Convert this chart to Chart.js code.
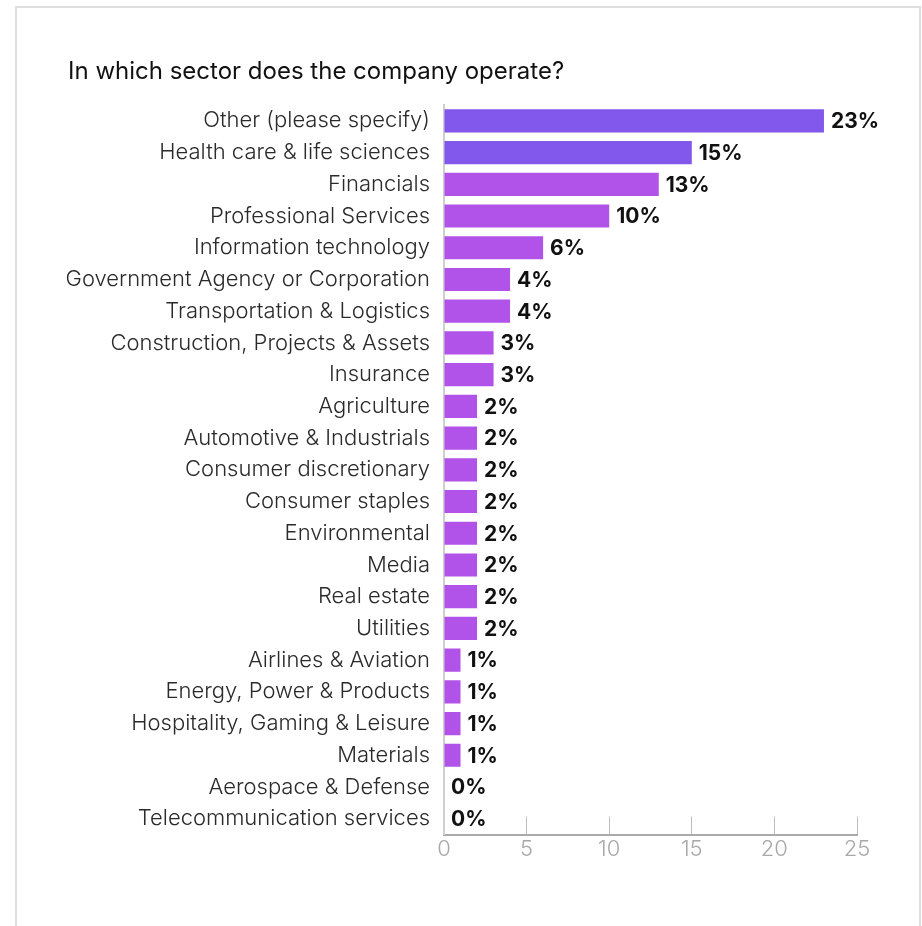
<!DOCTYPE html>
<html>
<head>
<meta charset="utf-8">
<script src="https://cdn.jsdelivr.net/npm/chart.js@4.4.0/dist/chart.umd.min.js"></script>
<style>
  html, body { margin: 0; padding: 0; background: #fff; }
  #wrap { position: relative; width: 922px; height: 926px; overflow: hidden; }
  .card { position: absolute; left: 15px; top: 6px; width: 906px; height: 960px; border: 2px solid #dedede; box-sizing: border-box; }
  #sectorChart { position: absolute; left: 0; top: 0; }
</style>
</head>
<body>
<div id="wrap">
  <div class="card"></div>
  <canvas id="sectorChart" width="922" height="926"></canvas>
</div>
<script>
// Survey: sector of the responding company (share of respondents, %)
const chartTitle = "In which sector does the company operate?";
const sectors = [
  "Other (please specify)",
  "Health care & life sciences",
  "Financials",
  "Professional Services",
  "Information technology",
  "Government Agency or Corporation",
  "Transportation & Logistics",
  "Construction, Projects & Assets",
  "Insurance",
  "Agriculture",
  "Automotive & Industrials",
  "Consumer discretionary",
  "Consumer staples",
  "Environmental",
  "Media",
  "Real estate",
  "Utilities",
  "Airlines & Aviation",
  "Energy, Power & Products",
  "Hospitality, Gaming & Leisure",
  "Materials",
  "Aerospace & Defense",
  "Telecommunication services"
];
const shares = [23, 15, 13, 10, 6, 4, 4, 3, 3, 2, 2, 2, 2, 2, 2, 2, 2, 1, 1, 1, 1, 0, 0];
const xTicks = [0, 5, 10, 15, 20, 25];

const FONT = "Inter, 'Noto Sans', sans-serif";
const topColor = "#8157ec";
const baseColor = "#b152e8";
const barColors = shares.map((v, i) => (i < 2 ? topColor : baseColor));

// percentage labels at the end of each bar
const valueLabels = {
  id: "valueLabels",
  afterDatasetsDraw(chart) {
    const ctx = chart.ctx;
    const meta = chart.getDatasetMeta(0);
    ctx.save();
    ctx.font = "700 21px " + FONT;
    ctx.fillStyle = "#111";
    ctx.textAlign = "left";
    ctx.textBaseline = "middle";
    meta.data.forEach((bar, i) => {
      ctx.fillText(shares[i] + "%", bar.x + 7, bar.y + 1);
    });
    ctx.restore();
  }
};

// heading sits further right than the long category labels
const headingText = {
  id: "headingText",
  afterDraw(chart) {
    const ctx = chart.ctx;
    ctx.save();
    ctx.font = "400 24px " + FONT;
    ctx.fillStyle = "#111";
    ctx.textAlign = "left";
    ctx.textBaseline = "middle";
    ctx.fillText(chartTitle, 68, 72);
    ctx.restore();
  }
};

new Chart(document.getElementById("sectorChart"), {
  type: "bar",
  data: {
    labels: sectors,
    datasets: [{
      data: shares,
      backgroundColor: barColors,
      borderWidth: 0,
      categoryPercentage: 1,
      barPercentage: 0.73
    }]
  },
  plugins: [valueLabels, headingText],
  options: {
    indexAxis: "y",
    responsive: false,
    animation: false,
    layout: { padding: { left: 40, right: 65, top: 105, bottom: 43 } },
    plugins: {
      legend: { display: false },
      tooltip: { enabled: false },
      title: { display: false }
    },
    scales: {
      x: {
        min: 0,
        max: 25,
        afterBuildTicks: axis => { axis.ticks = xTicks.map(v => ({ value: v })); },
        grid: { display: true, drawOnChartArea: false, drawTicks: true, tickLength: -18, color: "#bdbdbd", lineWidth: 1 },
        border: { display: true, color: "#aaaaaa", width: 2 },
        ticks: { color: "#a8a8a8", padding: 20, font: { family: FONT, size: 22, weight: "300" } }
      },
      y: {
        afterFit: axis => { axis.width = 404; },
        grid: { display: false, drawTicks: false },
        border: { display: true, color: "#cfcfcf", width: 2 },
        ticks: { color: "#2a2a2a", padding: 14, font: { family: FONT, size: 22, weight: "300" } }
      }
    }
  }
});
</script>
</body>
</html>
